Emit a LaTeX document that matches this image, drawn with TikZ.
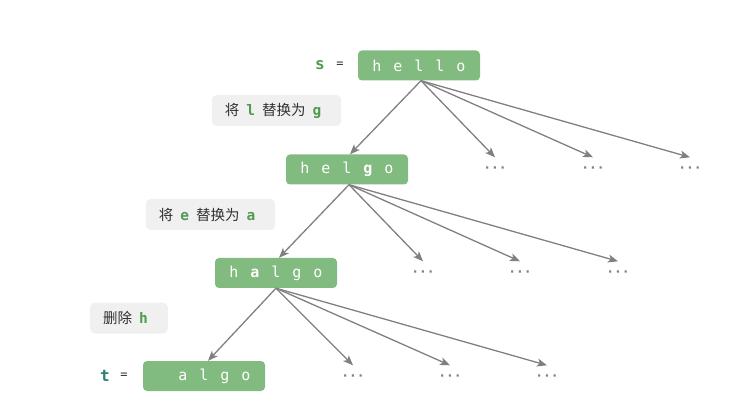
\documentclass[tikz,border=0pt]{standalone}
\usepackage{fontspec}
\setmonofont{DejaVu Sans Mono}
\newfontfamily\cjk{Noto Sans CJK SC}
\usetikzlibrary{arrows.meta}

\definecolor{boxgreen}{RGB}{130,187,128}
\definecolor{txtgreen}{RGB}{80,155,80}
\definecolor{tealtxt}{RGB}{45,128,118}
\definecolor{linegray}{RGB}{128,128,128}
\definecolor{labelbg}{RGB}{240,240,240}
\definecolor{labeltxt}{RGB}{50,50,50}

% 字符槽
\newcommand{\slot}[1]{\makebox[21pt]{#1}}
\newcommand{\hl}[1]{\hspace{7pt}\textcolor{txtgreen}{\ttfamily\bfseries #1}\hspace{7pt}}

\tikzset{
  strbox/.style={fill=boxgreen, rounded corners=4pt, minimum width=122pt,
    minimum height=30pt, inner sep=0pt, text=white,
    font=\ttfamily\fontsize{15}{17}\selectfont},
  opbox/.style={fill=labelbg, rounded corners=5pt, minimum height=31pt,
    inner xsep=13pt, text=labeltxt, font=\cjk\fontsize{14.5}{16}\selectfont},
  dots/.style={text=linegray, minimum height=25pt, inner sep=0pt,
    font=\ttfamily\bfseries\fontsize{13}{15}\selectfont},
  link/.style={draw=linegray, line width=1.3pt, -{Stealth[length=10pt,width=8pt,inset=2.5pt]}},
  eqsign/.style={text=labeltxt, font=\ttfamily\fontsize{12}{14}\selectfont}
}

\begin{document}
\begin{tikzpicture}[x=1pt,y=-1pt]
  \useasboundingbox (0,0) rectangle (748,409);

  % 字符串
  \node[strbox] (hello) at (419,65.5) {\slot{h}\slot{e}\slot{l}\slot{l}\slot{o}};
  \node[strbox] (helgo) at (347,169.5) {\slot{h}\slot{e}\slot{l}\slot{\textbf{g}}\slot{o}};
  \node[strbox] (halgo) at (276,273) {\slot{h}\slot{\textbf{a}}\slot{l}\slot{g}\slot{o}};
  \node[strbox] (algo) at (204,376) {\slot{}\slot{a}\slot{l}\slot{g}\slot{o}};

  % s = 和 t =
  \node[text=txtgreen, font=\ttfamily\bfseries\fontsize{16}{18}\selectfont] (s) at (320,65) {s};
  \node[eqsign] (seq) at (340,65) {=};
  \node[text=tealtxt, font=\ttfamily\bfseries\fontsize{16}{18}\selectfont] (t) at (105,376) {t};
  \node[eqsign] (teq) at (124,376) {=};

  % 操作说明
  \node[opbox] (op1) at (276.5,110.5) {将\hl{l}替换为\hl{g}\hspace{-7pt}};
  \node[opbox] (op2) at (210.5,214.5) {将\hl{e}替换为\hl{a}\hspace{-7pt}};
  \node[opbox] (op3) at (129,318) {删除\hl{h}\hspace{-7pt}};

  % 省略
  \node[dots] (d11) at (495,170) {···};
  \node[dots] (d12) at (593,170) {···};
  \node[dots] (d13) at (690,170) {···};
  \node[dots] (d21) at (423,274) {···};
  \node[dots] (d22) at (520,274) {···};
  \node[dots] (d23) at (618,274) {···};
  \node[dots] (d31) at (353,378) {···};
  \node[dots] (d32) at (450,378) {···};
  \node[dots] (d33) at (547,378) {···};

  % 出发点
  \coordinate (o1) at ([xshift=2pt]hello.south);
  \coordinate (o2) at ([xshift=2pt]helgo.south);
  \coordinate (o3) at (halgo.south);

  % 箭头
  \draw[link] (o1) -- ([xshift=3pt]helgo.north);
  \draw[link] (o1) -- (d11.north);
  \draw[link] (o1) -- (d12.north);
  \draw[link] (o1) -- (d13.north);
  \draw[link] (o2) -- ([xshift=3pt]halgo.north);
  \draw[link] (o2) -- (d21.north);
  \draw[link] (o2) -- (d22.north);
  \draw[link] (o2) -- (d23.north);
  \draw[link] (o3) -- ([xshift=4pt]algo.north);
  \draw[link] (o3) -- (d31.north);
  \draw[link] (o3) -- (d32.north);
  \draw[link] (o3) -- (d33.north);
\end{tikzpicture}
\end{document}
